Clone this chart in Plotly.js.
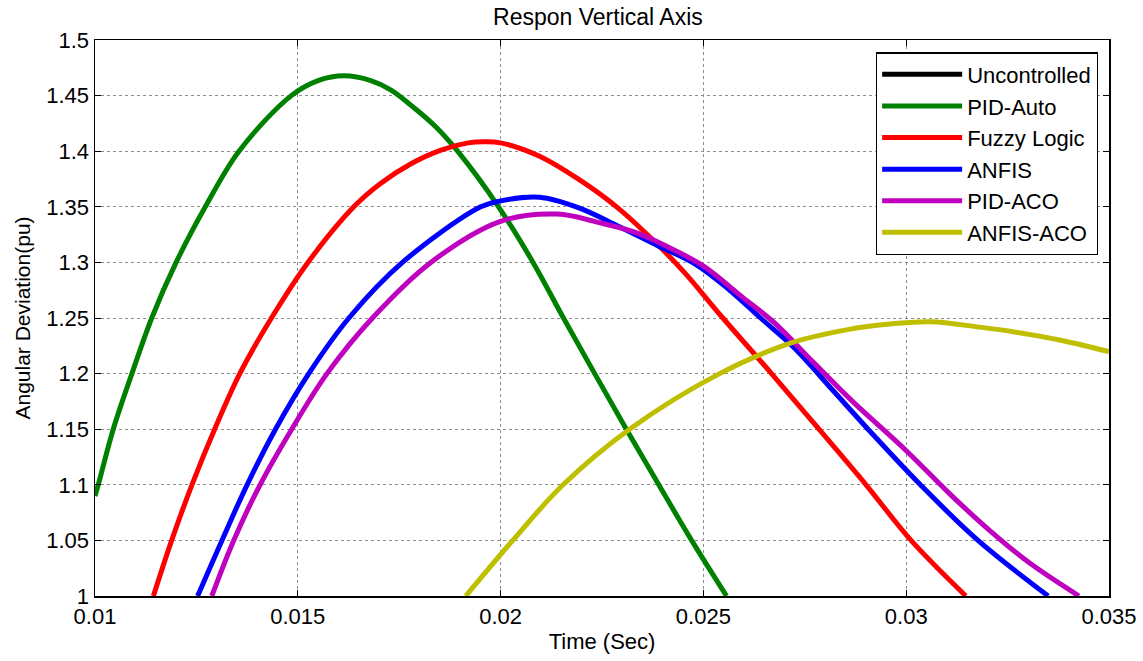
<!DOCTYPE html>
<html>
<head>
<meta charset="utf-8">
<script src="https://cdn.plot.ly/plotly-3.0.1.min.js"></script>
<style>html,body{margin:0;padding:0;background:#fff;}#chart{width:1143px;height:661px;}</style>
</head>
<body>
<div id="chart"></div>
<script>
// Series
const uncontrolledX = [null];
const uncontrolledY = [null];

const pidAutoX = [0.0100, 0.01008, 0.01045, 0.01091, 0.0114, 0.0120, 0.01272, 0.01355, 0.01484, 0.0155, 0.01614, 0.0168, 0.0173, 0.0178, 0.0184, 0.01894, 0.01995, 0.0208, 0.02155, 0.02232, 0.0231, 0.0239, 0.02471, 0.02557];
const pidAutoY = [1.090, 1.100, 1.150, 1.200, 1.250, 1.300, 1.350, 1.400, 1.450, 1.4635, 1.4678, 1.4635, 1.455, 1.441, 1.422, 1.400, 1.350, 1.300, 1.250, 1.200, 1.150, 1.100, 1.050, 1.000];

const fuzzyX = [0.01144, 0.01189, 0.01239, 0.01295, 0.01357, 0.01435, 0.01525, 0.01638, 0.01704, 0.01778, 0.01853, 0.0192, 0.0196, 0.0200, 0.02096, 0.02193, 0.02289, 0.02385, 0.02453, 0.02548, 0.02668, 0.02785, 0.02901, 0.03012, 0.03147];
const fuzzyY = [1.000, 1.050, 1.100, 1.150, 1.200, 1.250, 1.300, 1.350, 1.371, 1.3885, 1.401, 1.4075, 1.4085, 1.4075, 1.3955, 1.3746, 1.349, 1.3167, 1.291, 1.250, 1.200, 1.150, 1.100, 1.050, 1.000];

const anfisX = [0.01253, 0.01313, 0.01375, 0.01445, 0.01527, 0.01626, 0.01758, 0.01951, 0.0200, 0.02096, 0.02193, 0.02289, 0.02385, 0.0248, 0.02565, 0.02641, 0.02723, 0.02819, 0.02906, 0.03035, 0.03177, 0.0335];
const anfisY = [1.000, 1.050, 1.100, 1.150, 1.200, 1.250, 1.300, 1.350, 1.3553, 1.3585, 1.349, 1.3328, 1.3155, 1.2985, 1.275, 1.250, 1.2235, 1.185, 1.150, 1.100, 1.050, 1.000];

const pidAcoX = [0.01288, 0.01342, 0.01407, 0.01485, 0.01572, 0.01684, 0.01828, 0.0200, 0.0214, 0.0224, 0.02337, 0.02434, 0.02503, 0.02597, 0.02674, 0.0277, 0.02867, 0.03002, 0.03108, 0.03204, 0.03301, 0.03426];
const pidAcoY = [1.000, 1.050, 1.100, 1.150, 1.200, 1.250, 1.300, 1.337, 1.3435, 1.336, 1.3264, 1.310, 1.296, 1.2685, 1.246, 1.2106, 1.1752, 1.130, 1.0916, 1.0595, 1.0305, 1.000];

const anfisAcoX = [0.01914, 0.0203, 0.02154, 0.02318, 0.0254, 0.0272, 0.0287, 0.02935, 0.0306, 0.0318, 0.03263, 0.03387, 0.0350];
const anfisAcoY = [1.000, 1.050, 1.100, 1.150, 1.200, 1.228, 1.2405, 1.2437, 1.2467, 1.2418, 1.2377, 1.2296, 1.2197];

const seriesNames = ['Uncontrolled', 'PID-Auto', 'Fuzzy Logic', 'ANFIS', 'PID-ACO', 'ANFIS-ACO'];
const seriesColors = ['#000000', '#008000', '#ff0000', '#0000ff', '#bf00bf', '#bfbf00'];
const xTicks = [0.01, 0.015, 0.02, 0.025, 0.03, 0.035];
const xTickText = ['0.01', '0.015', '0.02', '0.025', '0.03', '0.035'];
const yTicks = [1, 1.05, 1.1, 1.15, 1.2, 1.25, 1.3, 1.35, 1.4, 1.45, 1.5];
const yTickText = ['1', '1.05', '1.1', '1.15', '1.2', '1.25', '1.3', '1.35', '1.4', '1.45', '1.5'];

const xs = [uncontrolledX, pidAutoX, fuzzyX, anfisX, pidAcoX, anfisAcoX];
const ys = [uncontrolledY, pidAutoY, fuzzyY, anfisY, pidAcoY, anfisAcoY];

const traces = seriesNames.map((n, i) => ({
  type: 'scatter', mode: 'lines', name: n,
  x: xs[i], y: ys[i],
  legendgroup: 'g' + i,
  line: {color: seriesColors[i], width: 5, shape: 'spline', smoothing: 1},
  showlegend: true
}));

const font = {family: 'Liberation Sans, Arial, sans-serif', color: '#000'};

const layout = {
  width: 1143, height: 661,
  margin: {l: 95, r: 34, t: 40, b: 65},
  paper_bgcolor: '#fff', plot_bgcolor: '#fff',
  font: Object.assign({size: 22}, font),
  title: {text: 'Respon Vertical Axis', xref: 'paper', x: 0.496, xanchor: 'center', y: 0.974, yanchor: 'middle', font: Object.assign({size: 23}, font)},
  xaxis: {
    range: [0.01, 0.035], tickvals: xTicks, ticktext: xTickText,
    showline: true, linecolor: '#000', linewidth: 1.5, mirror: 'ticks',
    ticks: 'inside', ticklen: 6, tickcolor: '#000',
    showgrid: true, gridcolor: '#8c8c8c', griddash: 'dot', gridwidth: 1,
    zeroline: false, tickfont: Object.assign({size: 22}, font),
    title: {text: 'Time (Sec)', standoff: 5, font: Object.assign({size: 22}, font)}
  },
  yaxis: {
    range: [1, 1.5], tickvals: yTicks, ticktext: yTickText,
    showline: true, linecolor: '#000', linewidth: 1.5, mirror: 'ticks',
    ticks: 'inside', ticklen: 6, tickcolor: '#000',
    showgrid: true, gridcolor: '#8c8c8c', griddash: 'dot', gridwidth: 1,
    zeroline: false, tickfont: Object.assign({size: 22}, font),
    title: {text: 'Angular Deviation(pu)', standoff: 10, font: Object.assign({size: 21}, font)}
  },
  legend: {
    x: 0.989, xanchor: 'right', y: 0.978, yanchor: 'top',
    bgcolor: '#fff', bordercolor: '#000', borderwidth: 1.3,
    font: Object.assign({size: 22}, font),
    itemwidth: 80, traceorder: 'grouped', tracegroupgap: 0
  },
  showlegend: true
};

Plotly.newPlot('chart', traces, layout, {displayModeBar: false, staticPlot: true});
</script>
</body>
</html>
